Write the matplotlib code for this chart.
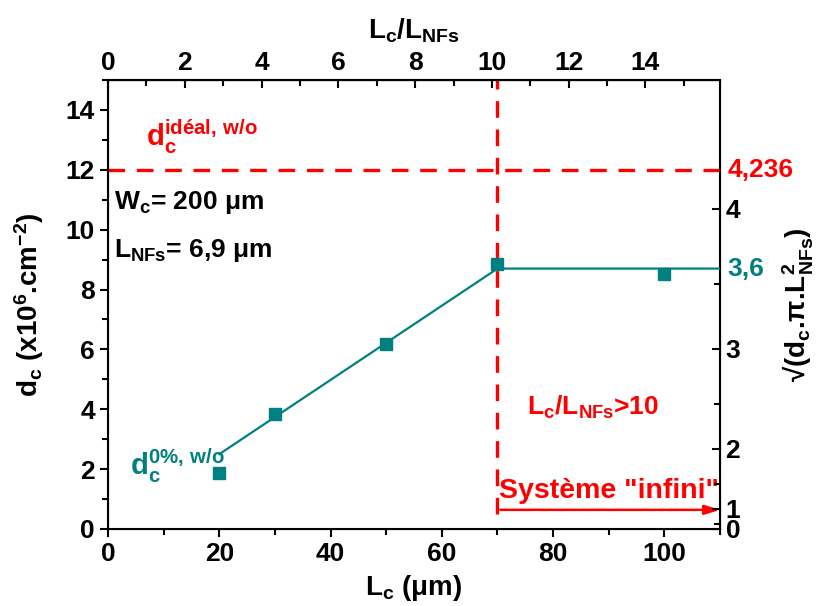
import numpy as np
import matplotlib
matplotlib.use("Agg")
import matplotlib.pyplot as plt
import matplotlib.transforms as mtransforms
from matplotlib.ticker import MultipleLocator

plt.rcParams['font.family'] = ['Liberation Sans', 'DejaVu Sans']
plt.rcParams['font.weight'] = 'bold'
plt.rcParams['axes.labelweight'] = 'bold'
plt.rcParams['mathtext.fontset'] = 'custom'
plt.rcParams['mathtext.rm'] = 'Liberation Sans:bold'
plt.rcParams['mathtext.it'] = 'Liberation Sans:bold'
plt.rcParams['mathtext.bf'] = 'Liberation Sans:bold'
plt.rcParams['mathtext.sf'] = 'Liberation Sans:bold'

# Data
Lc = [20, 30, 50, 70, 100]
dc = [1.87, 3.85, 6.19, 8.86, 8.53]
fit_x = [20, 70, 110]
fit_y = [2.5, 8.7, 8.7]
d_ideal = 12.0
L_nfs = 6.9
k = np.pi * (L_nfs * 1e-4) ** 2 * 1e6  # d (1e6 cm^-2) -> d*pi*L^2

right_major = [0, 1, 2, 3, 4]
right_minor = [0.5, 1.5, 2.5, 3.5]

teal = '#008080'
red = '#ff0000'
FS = 19
LFS = 20

fig = plt.figure(figsize=(8.17, 6.06), dpi=100)
ax = fig.add_axes([108/817, 1-529/606, (720-108)/817, (529-80)/606])

ax.plot(fit_x, fit_y, color=teal, lw=1.6, zorder=3)
ax.plot(Lc, dc, ls='none', marker='s', ms=9, color=teal, zorder=4)

ax.plot([0, 110], [d_ideal, d_ideal], color=red, lw=2.4, ls=(0, (5, 3.5)), zorder=2)
ax.plot([70, 70], [0.5, 15], color=red, lw=2.4, ls=(0, (5, 3.5)), zorder=2)

ax.annotate('', xy=(110, 0.64), xytext=(70.5, 0.64),
            arrowprops=dict(arrowstyle='-|>,head_length=0.9,head_width=0.28', color=red, lw=1.8,
                            shrinkA=0, shrinkB=0))
ax.text(70.3, 0.85, 'Système "infini"', color=red, fontsize=20.5, fontweight='bold', ha='left', va='bottom')

ax.set_xlim(0, 110)
ax.set_ylim(0, 15)
ax.xaxis.set_major_locator(MultipleLocator(20))
ax.xaxis.set_minor_locator(MultipleLocator(10))
ax.yaxis.set_major_locator(MultipleLocator(2))
ax.yaxis.set_minor_locator(MultipleLocator(1))
ax.tick_params(axis='both', which='major', direction='out', length=6, width=1.5, labelsize=FS)
ax.tick_params(axis='both', which='minor', direction='out', length=4, width=1.5)
for s in ax.spines.values():
    s.set_linewidth(1.5)

ax.set_xlabel(r'$\mathregular{L_c}$ (μm)', fontsize=LFS, fontweight='bold')
ax.set_ylabel(r'$\mathregular{d_c}$ (x10$^{\mathregular{6}}$.cm$^{\mathregular{-2}}$)', fontsize=LFS, fontweight='bold')
ax.xaxis.set_label_coords(0.5, -0.097)
ax.yaxis.set_label_coords(-0.101, 0.5)

# top axis
top = ax.secondary_xaxis('top', functions=(lambda x: x / L_nfs, lambda x: x * L_nfs))
top.xaxis.set_major_locator(MultipleLocator(2))
top.xaxis.set_minor_locator(MultipleLocator(1))
top.tick_params(which='major', direction='in', length=6, width=1.5, labelsize=FS)
top.tick_params(which='minor', direction='in', length=4, width=1.5)
top.set_xlabel(r'$\mathregular{L_c/L_{NFs}}$', fontsize=LFS, fontweight='bold', labelpad=9)

# right axis
ax2 = ax.twinx()
ax2.set_ylim(0, 15)
ax2.set_yticks([v ** 2 / k for v in right_major])
ax2.set_yticklabels([str(v) for v in right_major])
ax2.set_yticks([v ** 2 / k for v in right_minor], minor=True)
ax2.tick_params(which='major', direction='in', length=6, width=1.5, labelsize=FS, pad=4)
ax2.tick_params(which='minor', direction='in', length=4, width=1.5)
ax2.set_ylabel('√(' + r'$\mathregular{d_c}$.π.$\mathregular{L^2_{NFs}}$)', fontsize=LFS, fontweight='bold')
ax2.yaxis.set_label_coords(1.10, 0.5)

trans = mtransforms.blended_transform_factory(ax.transAxes, ax.transData)
ax.text(1.012, d_ideal, '4,236', color=red, fontsize=FS, fontweight='bold', transform=trans,
        ha='left', va='center')
ax.text(1.012, 8.7, '3,6', color=teal, fontsize=FS, fontweight='bold', transform=trans,
        ha='left', va='center')

# annotations
ax.text(6.8, 12.45, r'$\mathregular{d_c^{idéal,\,w/o}}$', color=red, fontsize=21, ha='left', va='bottom')
ax.text(1.0, 10.9, r'$\mathregular{W_c}$= 200 μm', fontsize=FS, ha='left', va='center')
ax.text(1.0, 9.3, r'$\mathregular{L_{NFs}}$= 6,9 μm', fontsize=FS, ha='left', va='center')
ax.text(4.0, 2.1, r'$\mathregular{d_c^{0\%,\,w/o}}$', color=teal, fontsize=21, ha='left', va='center')
ax.text(75.3, 4.05, r'$\mathregular{L_c/L_{NFs}}$>10', color=red, fontsize=FS, ha='left', va='center')

fig.savefig('out.png', dpi=100)
